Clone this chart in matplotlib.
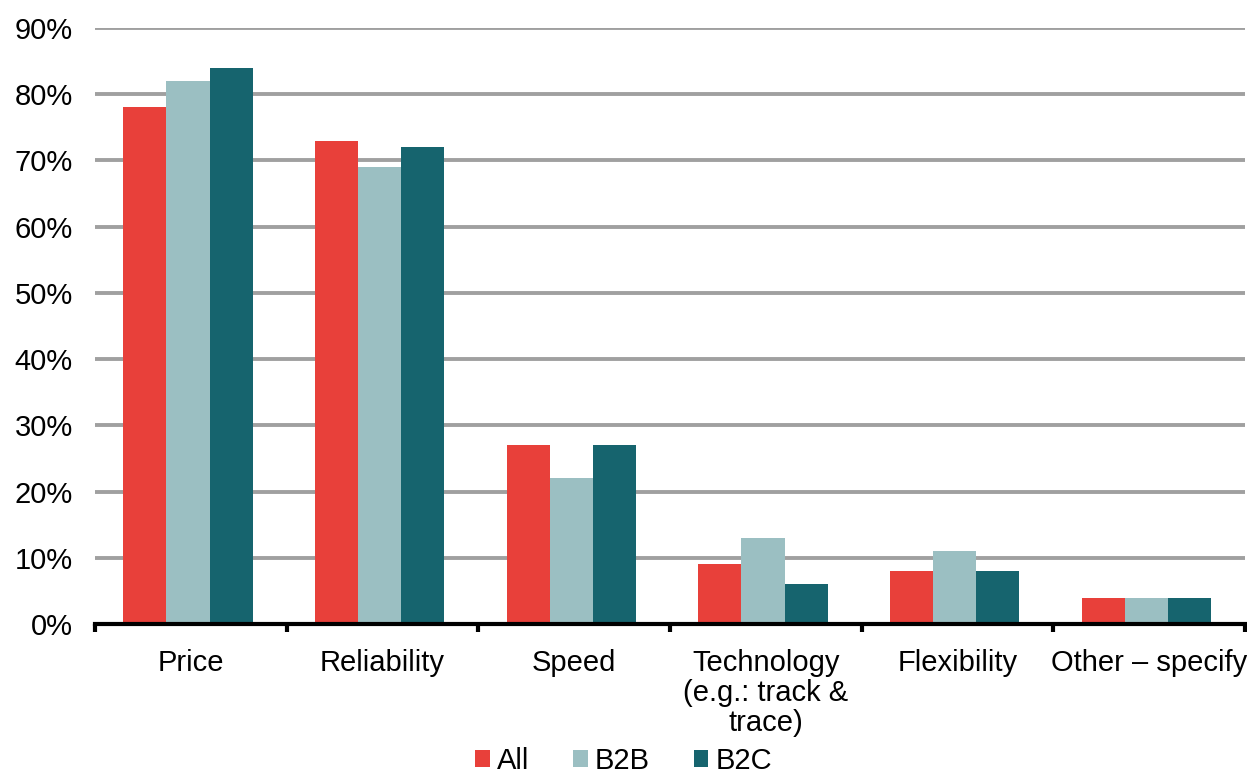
import matplotlib
matplotlib.use("Agg")
import matplotlib.pyplot as plt
import numpy as np
from matplotlib.ticker import FixedLocator, PercentFormatter

categories = ["Price", "Reliability", "Speed", "Technology\n(e.g.: track &\ntrace)", "Flexibility", "Other \u2013 specify"]
series_names = ["All", "B2B", "B2C"]
all_vals = [78, 73, 27, 9, 8, 4]
b2b_vals = [82, 69, 22, 13, 11, 4]
b2c_vals = [84, 72, 27, 6, 8, 4]
colors = ["#E8403A", "#9BBFC2", "#16646E"]
yticks = [0, 10, 20, 30, 40, 50, 60, 70, 80, 90]

plt.rcParams['font.family'] = ['Liberation Sans', 'DejaVu Sans']
fig = plt.figure(figsize=(12.47, 7.74), dpi=100)
ax = fig.add_axes([95/1247, 1 - 624/774, 1150/1247, (624-28)/774])

x = np.arange(len(categories))
w = 0.225
for i, (vals, c, name) in enumerate(zip([all_vals, b2b_vals, b2c_vals], colors, series_names)):
    ax.bar(x + (i - 1) * w - 0.015, vals, width=w, color=c, label=name, zorder=3)

ax.set_xlim(-0.5, len(categories) - 0.5)
ax.set_ylim(0, 90)
ax.set_yticks(yticks)
ax.yaxis.set_major_formatter(PercentFormatter(decimals=0))
ax.grid(axis='y', color='#A0A0A0', linewidth=2.8, zorder=0)
ax.tick_params(axis='y', length=0, labelsize=21, pad=16)
ax.set_xticks(x)
ax.set_xticklabels(categories, fontsize=21, linespacing=1.1)
ax.tick_params(axis='x', which='major', length=0, pad=18)
ax.xaxis.set_minor_locator(FixedLocator(np.arange(-0.5, len(categories), 1.0)))
ax.tick_params(axis='x', which='minor', length=6, width=3, color='black', direction='out')
for s in ['top', 'right', 'left']:
    ax.spines[s].set_visible(False)
ax.spines['bottom'].set_linewidth(3)
ax.spines['bottom'].set_zorder(4)

fig.legend(loc='lower center', bbox_to_anchor=(0.5, -0.035), ncol=3, frameon=False,
           fontsize=21, handlelength=0.5, handleheight=0.5, handletextpad=0.25,
           columnspacing=1.5)

fig.savefig("out.png", dpi=100)
